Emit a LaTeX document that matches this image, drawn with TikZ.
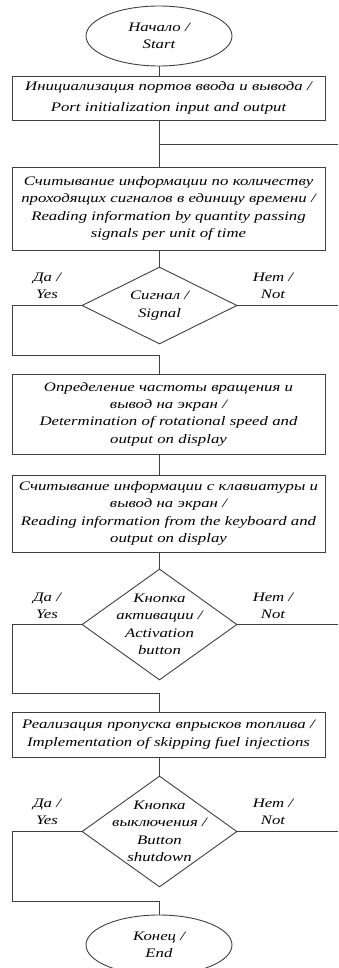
\documentclass[tikz,border=0pt]{standalone}
\usepackage{fontspec}
\setmainfont[FakeStretch=1.29]{Liberation Serif}
\usetikzlibrary{shapes.geometric}
\begin{document}
\begin{tikzpicture}[x=1pt,y=-1pt,
  every node/.style={font=\fontsize{13}{17.4}\selectfont\itshape, text=black},
  ln/.style={draw=black!75, line width=0.9pt},
  procbox/.style={ln, rectangle, minimum width=313pt, inner sep=0pt, align=center, text width=313pt},
  term/.style={ln, ellipse, minimum width=146pt, minimum height=60pt, inner sep=0pt, align=center},
  dia/.style={ln, diamond, minimum width=155pt, inner sep=0pt},
  lbl/.style={align=center, inner sep=0pt}
]
\clip (0,0) rectangle (338,968);
\useasboundingbox (0,0) rectangle (338,968);

\node[term] (start) at (159,36) {Начало /\\Start};
\node[procbox, minimum height=44pt, font=\fontsize{13}{20.5}\selectfont\itshape] (init) at (168.5,98) {Инициализация портов ввода и вывода /\\Port initialization input and output};
\node[procbox, minimum height=83pt] (read) at (168.5,208.5) {Считывание информации по количеству\\проходящих сигналов в единицу времени /\\Reading information by quantity passing\\signals per unit of time};
\node[dia, minimum height=77pt] (d1) at (159.5,305.5) {};
\node[lbl] (d1t) at (d1) {Сигнал /\\Signal};
\node[procbox, minimum height=80pt] (freq) at (168.5,414) {Определение частоты вращения и\\вывод на экран /\\Determination of rotational speed and\\output on display};
\node[procbox, minimum height=77pt] (keyb) at (168.5,513.5) {Считывание информации с клавиатуры и\\вывод на экран /\\Reading information from the keyboard and\\output on display};
\node[dia, minimum height=111pt] (d2) at (159.5,624.5) {};
\node[lbl] (d2t) at (d2) {Кнопка\\активации /\\Activation\\button};
\node[procbox, minimum height=45pt] (skip) at (168.5,734.5) {Реализация пропуска впрысков топлива /\\Implementation of skipping fuel injections};
\node[dia, minimum height=111pt] (d3) at (159.5,831.5) {};
\node[lbl] (d3t) at (d3) {Кнопка\\выключения /\\Button\\shutdown};
\node[term] (end) at (159,945) {Конец /\\End};

% labels
\node[lbl] (y1) at (47,286) {Да /\\Yes};
\node[lbl] (n1) at (273,286) {Нет /\\Not};
\node[lbl] (y2) at (47,605.5) {Да /\\Yes};
\node[lbl] (n2) at (273,605.5) {Нет /\\Not};
\node[lbl] (y3) at (47,812) {Да /\\Yes};
\node[lbl] (n3) at (273,812) {Нет /\\Not};

% coordinates
\coordinate (j1) at (159,144);
\coordinate (r0) at (338,144);
\coordinate (l1a) at (12,305.5);
\coordinate (l1b) at (12,355);
\coordinate (l1c) at (159,355);
\coordinate (r1) at (338,305.5);
\coordinate (l2a) at (12,624.5);
\coordinate (l2b) at (12,693);
\coordinate (l2c) at (159,693);
\coordinate (r2) at (338,624.5);
\coordinate (l3a) at (12,831.5);
\coordinate (l3b) at (12,901);
\coordinate (l3c) at (159,901);
\coordinate (r3) at (338,831.5);

% connectors
\draw[ln] (start.south) -- (start.south |- init.north);
\draw[ln] (init.south -| start.south) -- (start.south |- read.north);
\draw[ln] (j1) -- (r0);
\draw[ln] (read.south -| d1.north) -- (d1.north);
\draw[ln] (d1.west) -- (l1a) -- (l1b) -- (l1c) -- (l1c |- freq.north);
\draw[ln] (d1.east) -- (r1);
\draw[ln] (freq.south -| start.south) -- (start.south |- keyb.north);
\draw[ln] (keyb.south -| d2.north) -- (d2.north);
\draw[ln] (d2.west) -- (l2a) -- (l2b) -- (l2c) -- (l2c |- skip.north);
\draw[ln] (d2.east) -- (r2);
\draw[ln] (skip.south -| d3.north) -- (d3.north);
\draw[ln] (d3.west) -- (l3a) -- (l3b) -- (l3c) -- (end.north);
\draw[ln] (d3.east) -- (r3);
\end{tikzpicture}
\end{document}
